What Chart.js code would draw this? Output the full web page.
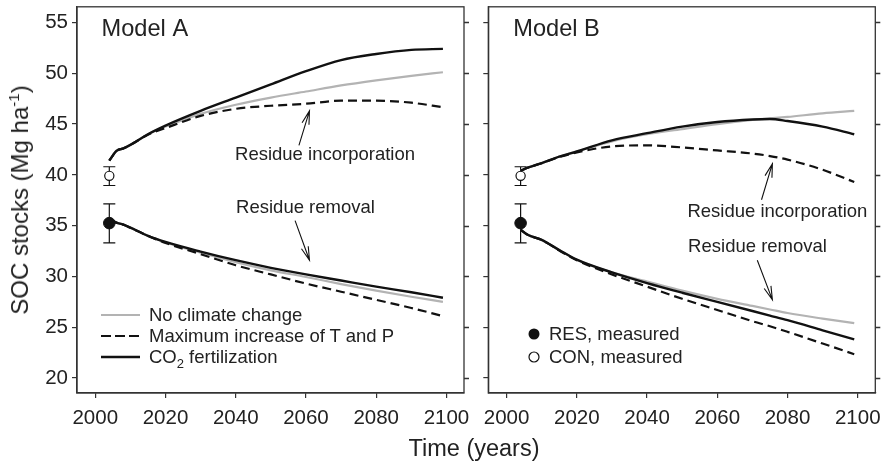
<!DOCTYPE html>
<html>
<head>
<meta charset="utf-8">
<script src="https://cdn.jsdelivr.net/npm/chart.js@4.4.1/dist/chart.umd.min.js"></script>
<style>
  body { margin:0; background:#fff; width:887px; height:467px; overflow:hidden; position:relative;
         font-family:'Liberation Sans', Arial, Helvetica, sans-serif; color:#222; }
  canvas { position:absolute; top:0; }
  #cA { left:0; }
  #cB { left:440px; }
  .lab { position:absolute; white-space:nowrap; }
  #ytitle { left:20px; top:200px; font-size:24px; transform:translate(-50%,-50%) rotate(-90deg); }
  #ytitle sup { font-size:15px; vertical-align:9px; line-height:0; }
  #xtitle { left:474px; top:448px; font-size:23.5px; transform:translate(-50%,-50%); }
  .row { position:absolute; height:22px; line-height:22px; font-size:18.5px; white-space:nowrap; }
  .row svg { position:absolute; top:0; }
  .row span { position:absolute; top:0; }
  .row sub { font-size:13px; vertical-align:-5px; line-height:0; }
</style>
</head>
<body>
<canvas id="cA" width="480" height="467"></canvas>
<canvas id="cB" width="447" height="467"></canvas>
<div id="ytitle" class="lab">SOC stocks (Mg ha<sup>-1</sup>)</div>
<div id="xtitle" class="lab">Time (years)</div>
<div id="legA"></div>
<div id="legB"></div>
<script>
// ---- data ----
var xTicks = [2000, 2020, 2040, 2060, 2080, 2100];
var yTicks = [20, 25, 30, 35, 40, 45, 50, 55];
var scenarioNames = ['No climate change', 'Maximum increase of T and P', 'CO<sub>2</sub> fertilization'];
var measNames = ['RES, measured', 'CON, measured'];

// measured SOC in 2004 (mean, low, high)
var measYear = 2004;
var resMeas = [35.25, 33.3, 37.15];
var conMeas = [39.9, 38.95, 40.8];

// Model A
var yearsA = [2004, 2005, 2006, 2008, 2010, 2015, 2020, 2030, 2040, 2050, 2060, 2070, 2080, 2090, 2099];
var aIncNone = [41.4, 41.9, 42.35, 42.6, 42.95, 44.0, 44.75, 46.0, 46.9, 47.6, 48.2, 48.8, 49.3, 49.75, 50.1];
var aIncMax  = [41.4, 41.9, 42.35, 42.6, 42.95, 43.95, 44.6, 45.8, 46.5, 46.8, 47.0, 47.3, 47.3, 47.1, 46.65];
var aIncCO2  = [41.4, 41.9, 42.35, 42.6, 42.95, 44.0, 44.85, 46.3, 47.6, 48.9, 50.2, 51.3, 51.9, 52.3, 52.4];
var aRemNone = [35.6, 35.45, 35.3, 35.1, 34.8, 34.0, 33.35, 32.35, 31.4, 30.6, 29.95, 29.25, 28.6, 28.0, 27.5];
var aRemMax  = [35.6, 35.45, 35.3, 35.1, 34.8, 34.0, 33.3, 32.2, 31.1, 30.2, 29.3, 28.5, 27.7, 26.9, 26.1];
var aRemCO2  = [35.6, 35.45, 35.3, 35.1, 34.8, 34.0, 33.4, 32.45, 31.6, 30.85, 30.2, 29.6, 29.0, 28.45, 27.9];

// Model B
var yearsB = [2004, 2006, 2010, 2015, 2020, 2030, 2040, 2050, 2060, 2070, 2075, 2080, 2090, 2099];
var bIncNone = [40.4, 40.7, 41.15, 41.8, 42.3, 43.3, 44.0, 44.5, 45.0, 45.4, 45.55, 45.7, 46.05, 46.3];
var bIncMax  = [40.4, 40.7, 41.15, 41.75, 42.2, 42.8, 42.9, 42.7, 42.4, 42.1, 41.85, 41.5, 40.5, 39.3];
var bIncCO2  = [40.4, 40.7, 41.15, 41.8, 42.3, 43.4, 44.1, 44.75, 45.2, 45.45, 45.5, 45.3, 44.75, 44.0];
var bRemNone = [34.6, 34.1, 33.6, 32.6, 31.65, 30.4, 29.5, 28.6, 27.8, 27.1, 26.75, 26.4, 25.85, 25.4];
var bRemMax  = [34.6, 34.1, 33.6, 32.55, 31.6, 30.2, 29.0, 27.8, 26.7, 25.6, 25.1, 24.55, 23.4, 22.35];
var bRemCO2  = [34.6, 34.1, 33.6, 32.6, 31.65, 30.4, 29.35, 28.4, 27.5, 26.6, 26.15, 25.7, 24.7, 23.8];

// ---- styling ----
var INK = '#222';
var FRAME = '#333';
var GRAY = '#b3b3b3';
var FONT = "'Liberation Sans', Arial, Helvetica, sans-serif";
var styles = [
  {color: GRAY, width: 2.2, dash: []},
  {color: '#111', width: 2.2, dash: [9, 5]},
  {color: '#111', width: 2.4, dash: []}
];

var notesA = [
  {text: 'Model A', x: 2001.8, y: 54.26, size: 23.6},
  {text: 'Residue incorporation', x: 2039.8, y: 41.94, size: 18.5},
  {text: 'Residue removal', x: 2040.1, y: 36.7, size: 18.5}
];
var arrowsA = [
  {from: [2058.0, 42.9], to: [2061.0, 46.3]},
  {from: [2056.9, 35.5], to: [2061.0, 31.6]}
];
var notesB = [
  {text: 'Model B', x: 2001.9, y: 54.26, size: 23.6},
  {text: 'Residue incorporation', x: 2051.5, y: 36.34, size: 18.5},
  {text: 'Residue removal', x: 2051.7, y: 32.9, size: 18.5}
];
var arrowsB = [
  {from: [2072.6, 37.55], to: [2075.7, 41.1]},
  {from: [2071.4, 31.6], to: [2075.7, 27.7]}
];

function pts(years, vals) {
  return years.map(function (yr, i) { return {x: yr, y: vals[i]}; });
}

function lineSet(years, vals, k) {
  var s = styles[k];
  return {
    type: 'line', data: pts(years, vals), borderColor: s.color, borderWidth: s.width,
    borderDash: s.dash, pointRadius: 0, fill: false, cubicInterpolationMode: 'monotone',
    borderCapStyle: 'butt'
  };
}

var decor = {
  id: 'decor',
  beforeDatasetsDraw: function (chart) {
    var ctx = chart.ctx, x = chart.scales.x, y = chart.scales.y;
    ctx.save();
    ctx.strokeStyle = '#111';
    ctx.lineWidth = 1.2;
    [resMeas, conMeas].forEach(function (m) {
      var px = x.getPixelForValue(measYear);
      var lo = y.getPixelForValue(m[1]), hi = y.getPixelForValue(m[2]);
      ctx.beginPath();
      ctx.moveTo(px, lo); ctx.lineTo(px, hi);
      ctx.moveTo(px - 6, lo); ctx.lineTo(px + 6, lo);
      ctx.moveTo(px - 6, hi); ctx.lineTo(px + 6, hi);
      ctx.stroke();
    });
    ctx.restore();
  },
  afterDraw: function (chart, args, o) {
    var ctx = chart.ctx, a = chart.chartArea, x = chart.scales.x, y = chart.scales.y;
    ctx.save();
    ctx.strokeStyle = FRAME;
    ctx.lineWidth = 1.3;
    ctx.strokeRect(a.left, a.top, a.right - a.left, a.bottom - a.top);
    ctx.beginPath();
    yTicks.forEach(function (v) {
      var py = Math.round(y.getPixelForValue(v)) + 0.5;
      ctx.moveTo(a.right, py); ctx.lineTo(a.right + 5, py);
    });
    ctx.stroke();
    // arrows
    ctx.strokeStyle = '#111';
    ctx.lineWidth = 1.1;
    o.arrows.forEach(function (ar) {
      var x0 = x.getPixelForValue(ar.from[0]), y0 = y.getPixelForValue(ar.from[1]);
      var x1 = x.getPixelForValue(ar.to[0]), y1 = y.getPixelForValue(ar.to[1]);
      var ang = Math.atan2(y1 - y0, x1 - x0), L = 14, h = 0.26;
      ctx.beginPath();
      ctx.moveTo(x0, y0); ctx.lineTo(x1, y1);
      ctx.moveTo(x1 - L * Math.cos(ang - h), y1 - L * Math.sin(ang - h));
      ctx.lineTo(x1, y1);
      ctx.lineTo(x1 - L * Math.cos(ang + h), y1 - L * Math.sin(ang + h));
      ctx.stroke();
    });
    // text notes
    ctx.fillStyle = INK;
    ctx.textBaseline = 'middle';
    ctx.textAlign = 'left';
    o.notes.forEach(function (n) {
      ctx.font = n.size + 'px ' + FONT;
      ctx.fillText(n.text, x.getPixelForValue(n.x), y.getPixelForValue(n.y));
    });
    ctx.restore();
  }
};

function plain(v) { return String(v); }

function makeChart(id, years, inc, rem, notes, arrows, leftW, rightPad, showY) {
  var datasets = [
    {type: 'scatter', data: [{x: measYear, y: resMeas[0]}], pointRadius: 5.8, pointBackgroundColor: '#111',
     pointBorderColor: '#111', pointBorderWidth: 1},
    {type: 'scatter', data: [{x: measYear, y: conMeas[0]}], pointRadius: 4.6, pointBackgroundColor: '#fff',
     pointBorderColor: '#111', pointBorderWidth: 1.2}
  ];
  [2, 1, 0].forEach(function (k) {
    datasets.push(lineSet(years, inc[k], k));
    datasets.push(lineSet(years, rem[k], k));
  });
  return new Chart(document.getElementById(id), {
    type: 'line',
    data: {datasets: datasets},
    plugins: [decor],
    options: {
      responsive: false, animation: false, devicePixelRatio: 1,
      layout: {padding: {top: 6, right: rightPad, left: 0, bottom: 0}},
      plugins: {legend: {display: false}, tooltip: {enabled: false}, decor: {notes: notes, arrows: arrows}},
      scales: {
        x: {
          type: 'linear', min: 1994.8, max: 2105.0,
          afterBuildTicks: function (s) { s.ticks = xTicks.map(function (v) { return {value: v}; }); },
          afterFit: function (s) { s.height = 74; s.paddingLeft = 0; s.paddingRight = 0; },
          grid: {drawOnChartArea: false, drawTicks: true, tickLength: 5, color: FRAME, lineWidth: 1.2},
          border: {display: true, color: FRAME, width: 1.3},
          ticks: {color: INK, font: {family: FONT, size: 20.5}, padding: 8, maxRotation: 0, callback: plain}
        },
        y: {
          type: 'linear', min: 18.53, max: 56.54,
          afterBuildTicks: function (s) { s.ticks = yTicks.map(function (v) { return {value: v}; }); },
          afterFit: function (s) { s.width = leftW; s.paddingTop = 0; s.paddingBottom = 0; },
          grid: {drawOnChartArea: false, drawTicks: true, tickLength: 5, color: FRAME, lineWidth: 1.2},
          border: {display: true, color: FRAME, width: 1.3},
          ticks: {display: showY, color: INK, font: {family: FONT, size: 20.5}, padding: 4, callback: plain}
        }
      }
    }
  });
}

makeChart('cA', yearsA, [aIncNone, aIncMax, aIncCO2], [aRemNone, aRemMax, aRemCO2], notesA, arrowsA, 77, 16, true);
makeChart('cB', yearsB, [bIncNone, bIncMax, bIncCO2], [bRemNone, bRemMax, bRemCO2], notesB, arrowsB, 48.3, 11.7, false);

// ---- HTML legends (sub/superscripts) ----
var legA = document.getElementById('legA');
scenarioNames.forEach(function (name, k) {
  var s = styles[k];
  var row = document.createElement('div');
  row.className = 'row';
  row.style.left = '101px';
  row.style.top = (315 + 21 * k - 11) + 'px';
  row.innerHTML = '<svg width="40" height="22"><line x1="0" y1="11" x2="39" y2="11" stroke="' + s.color +
    '" stroke-width="' + s.width + '" stroke-dasharray="' + (s.dash.length ? '10,4' : 'none') + '"/></svg>' +
    '<span style="left:48px">' + name + '</span>';
  legA.appendChild(row);
});
var legB = document.getElementById('legB');
measNames.forEach(function (name, k) {
  var row = document.createElement('div');
  row.className = 'row';
  row.style.left = '527px';
  row.style.top = (334.3 + 22.4 * k - 11) + 'px';
  var circ = k === 0 ? '<circle cx="7" cy="11" r="5.5" fill="#111"/>' :
                       '<circle cx="7" cy="11" r="5" fill="#fff" stroke="#111" stroke-width="1.2"/>';
  row.innerHTML = '<svg width="16" height="22">' + circ + '</svg><span style="left:22px">' + name + '</span>';
  legB.appendChild(row);
});
</script>
</body>
</html>
